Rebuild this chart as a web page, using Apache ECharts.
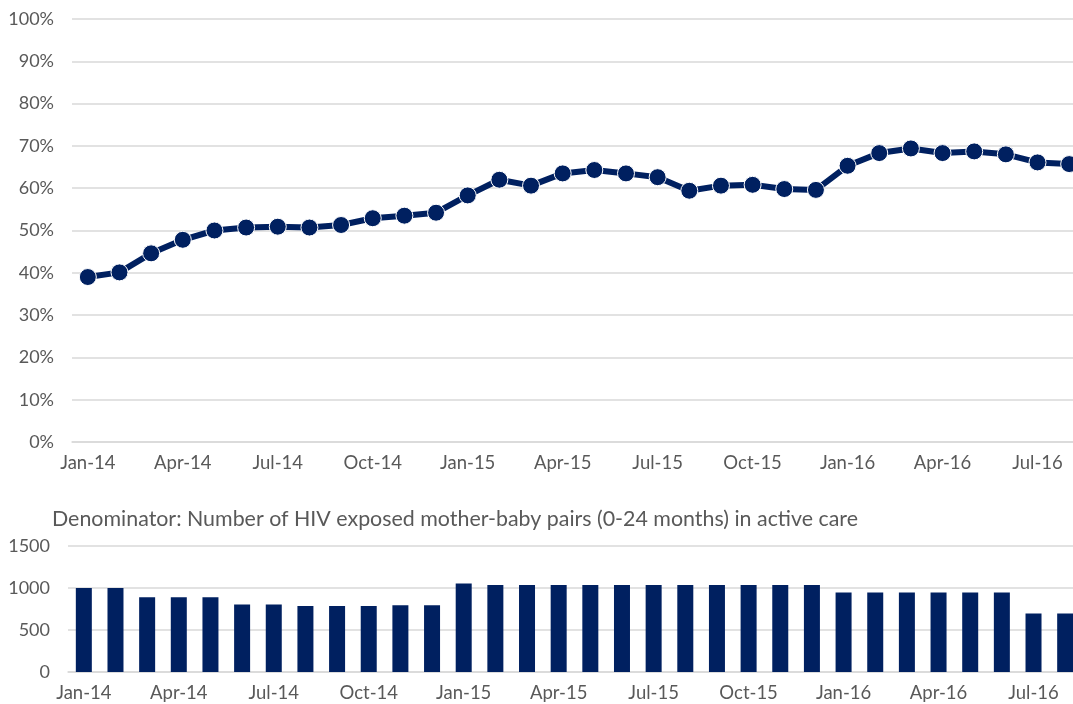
<!DOCTYPE html>
<html>
<head>
<meta charset="utf-8">
<script src="https://cdn.jsdelivr.net/npm/echarts@6/dist/echarts.min.js"></script>
<style>
  html, body { margin: 0; padding: 0; background: #fff; }
  #main { width: 1073px; height: 704px; }
</style>
</head>
<body>
<div id="main"></div>
<script>
// months Jan-14 .. Aug-16
const months = [
  "Jan-14", "Feb-14", "Mar-14", "Apr-14", "May-14", "Jun-14", "Jul-14", "Aug-14",
  "Sep-14", "Oct-14", "Nov-14", "Dec-14", "Jan-15", "Feb-15", "Mar-15", "Apr-15",
  "May-15", "Jun-15", "Jul-15", "Aug-15", "Sep-15", "Oct-15", "Nov-15", "Dec-15",
  "Jan-16", "Feb-16", "Mar-16", "Apr-16", "May-16", "Jun-16", "Jul-16", "Aug-16",
];

// share (%) - top line
const pctValues = [
  39.0, 40.1, 44.6, 47.8, 50.0, 50.7, 50.9, 50.7, 51.3, 52.9, 53.5, 54.2,
  58.3, 62.0, 60.6, 63.5, 64.3, 63.5, 62.6, 59.4, 60.6, 60.8, 59.8, 59.6,
  65.3, 68.3, 69.4, 68.3, 68.7, 68.0, 66.1, 65.7,
];

// denominator - bottom bars
const denomValues = [
  1000, 1000, 890, 890, 890, 805, 805, 785, 785, 785, 795, 795,
  1055, 1035, 1035, 1035, 1035, 1035, 1035, 1035, 1035, 1035, 1035, 1035,
  945, 945, 945, 945, 945, 945, 695, 695,
];

const denomTitle = "Denominator: Number of HIV exposed mother-baby pairs (0-24 months) in active care";

const navy = "#002060";
const grey = "#595959";
const gridGrey = "#d9d9d9";
const font = "Lato";

const chart = echarts.init(document.getElementById("main"));

const xAxisCommon = {
  type: "category",
  data: months,
  boundaryGap: true,
  axisLine: { lineStyle: { color: gridGrey, width: 1.5 } },
  axisTick: { interval: 2, length: 5, lineStyle: { color: gridGrey, width: 1.5 } },
  axisLabel: { interval: 2, color: grey, fontSize: 18.5, fontFamily: font, margin: 12 },
  splitLine: { show: false },
};

const option = {
  animation: false,
  textStyle: { fontFamily: font },
  title: {
    text: denomTitle,
    left: 52,
    top: 509,
    padding: 0,
    textStyle: { color: grey, fontSize: 21.4, fontWeight: "normal", fontFamily: font },
  },
  grid: [
    { left: 72, top: 19, width: 1013, height: 423, outerBoundsMode: "none" },
    { left: 68, top: 546, width: 1013, height: 126, outerBoundsMode: "none" },
  ],
  xAxis: [
    Object.assign({ gridIndex: 0 }, xAxisCommon),
    Object.assign({ gridIndex: 1 }, xAxisCommon),
  ],
  yAxis: [
    {
      gridIndex: 0,
      type: "value",
      min: 0,
      max: 100,
      interval: 10,
      axisLine: { show: false },
      axisTick: { show: false },
      axisLabel: { color: grey, fontSize: 18, fontFamily: font, margin: 18, formatter: "{value}%" },
      splitLine: { lineStyle: { color: gridGrey, width: 1.5 } },
    },
    {
      gridIndex: 1,
      type: "value",
      min: 0,
      max: 1500,
      interval: 500,
      axisLine: { show: false },
      axisTick: { show: false },
      axisLabel: { color: grey, fontSize: 18, fontFamily: font, margin: 18, formatter: (v) => String(v) },
      splitLine: { lineStyle: { color: gridGrey, width: 1.5 } },
    },
  ],
  series: [
    {
      name: "Share",
      type: "line",
      xAxisIndex: 0,
      yAxisIndex: 0,
      data: pctValues,
      symbol: "circle",
      symbolSize: 17,
      lineStyle: { color: navy, width: 6 },
      itemStyle: { color: navy, borderColor: "#ffffff", borderWidth: 1 },
    },
    {
      name: "Denominator",
      type: "bar",
      xAxisIndex: 1,
      yAxisIndex: 1,
      data: denomValues,
      barWidth: 16,
      itemStyle: { color: navy },
    },
  ],
};

chart.setOption(option);
</script>
</body>
</html>
